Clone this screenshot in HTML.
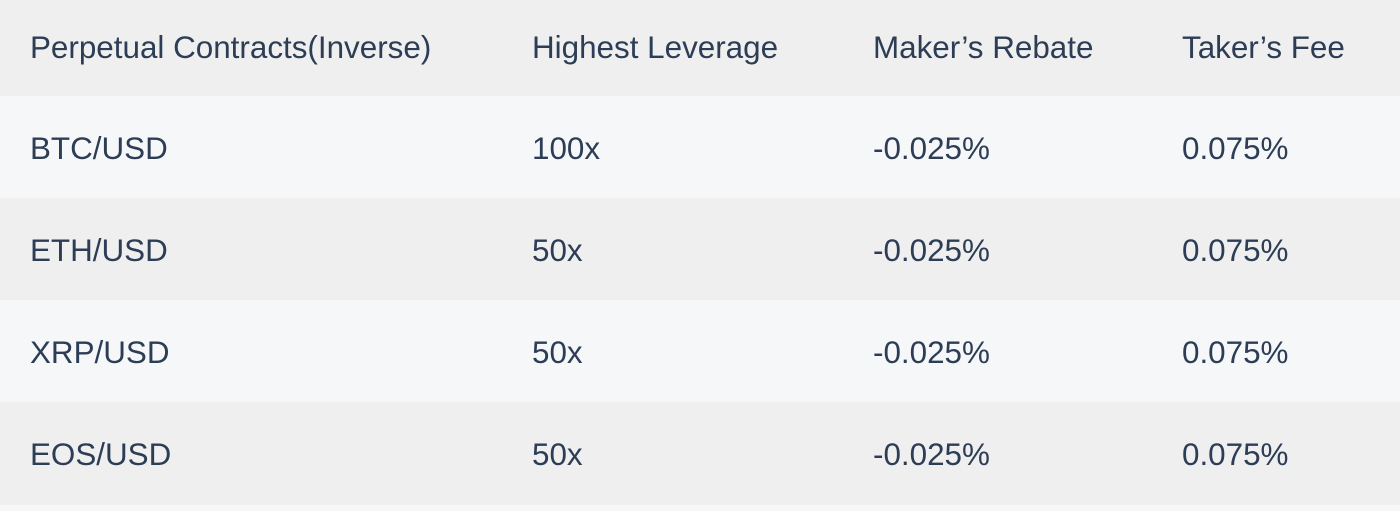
<!DOCTYPE html>
<html><head><meta charset="utf-8"><style>
html,body{margin:0;padding:0;width:1400px;height:511px;overflow:hidden;background:#f6f7f9;}
.t{font-family:"Liberation Sans",sans-serif;font-size:31.4px;color:#2c3d55;}
.r{position:relative;height:102px;}
.r.h{height:96px;}
.g{background:#efefef;}
.l{background:#f6f7f9;}
.c{position:absolute;top:3px;bottom:0;display:flex;align-items:center;white-space:nowrap;}
.h .c{top:0;}
.c1{left:30px}.c2{left:532px}.c3{left:873px}.c4{left:1182px}
</style></head><body>
<div class="t">
<div class="r h g"><div class="c c1">Perpetual Contracts(Inverse)</div><div class="c c2">Highest Leverage</div><div class="c c3">Maker’s Rebate</div><div class="c c4">Taker’s Fee</div></div>
<div class="r l"><div class="c c1">BTC/USD</div><div class="c c2">100x</div><div class="c c3">-0.025%</div><div class="c c4">0.075%</div></div>
<div class="r g"><div class="c c1">ETH/USD</div><div class="c c2">50x</div><div class="c c3">-0.025%</div><div class="c c4">0.075%</div></div>
<div class="r l"><div class="c c1">XRP/USD</div><div class="c c2">50x</div><div class="c c3">-0.025%</div><div class="c c4">0.075%</div></div>
<div class="r g" style="height:103px"><div class="c c1">EOS/USD</div><div class="c c2">50x</div><div class="c c3">-0.025%</div><div class="c c4">0.075%</div></div>
</div>
</body></html>
